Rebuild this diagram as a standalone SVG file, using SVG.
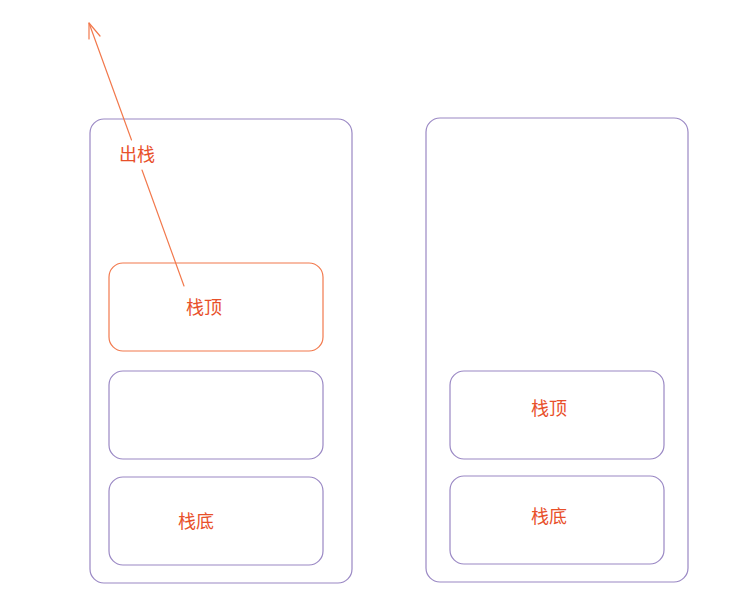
<svg xmlns="http://www.w3.org/2000/svg" width="752" height="608" viewBox="0 0 752 608">
<style>
.box{fill:none;stroke:#9a88c4;stroke-width:1.2}
.hot{fill:none;stroke:#f2794d;stroke-width:1.2}
.lbl{font-family:"Noto Sans CJK SC","Noto Sans",sans-serif;font-size:18px;fill:#e8502a;text-anchor:middle;dominant-baseline:central}
.edge{fill:none;stroke:#f2794d;stroke-width:1.2;stroke-linecap:round;stroke-linejoin:round}
</style>
<rect width="752" height="608" fill="#ffffff"/>
<g id="stack-left">
<rect class="box" x="90" y="119" width="262" height="464" rx="14"/>
</g>
<g id="left-top">
<rect class="hot" x="109" y="263" width="214" height="88" rx="14"/>
<text class="lbl" x="204" y="306">栈顶</text>
</g>
<g id="left-middle">
<rect class="box" x="109" y="371" width="214" height="88" rx="14"/>
</g>
<g id="left-bottom">
<rect class="box" x="109" y="477" width="214" height="88" rx="14"/>
<text class="lbl" x="196" y="520">栈底</text>
</g>
<g id="stack-right">
<rect class="box" x="426" y="118" width="262" height="464" rx="14"/>
</g>
<g id="right-top">
<rect class="box" x="450" y="371" width="214" height="88" rx="14"/>
<text class="lbl" x="549" y="407">栈顶</text>
</g>
<g id="right-bottom">
<rect class="box" x="450" y="476" width="214" height="88" rx="14"/>
<text class="lbl" x="549" y="515">栈底</text>
</g>
<g id="connectors">
<path class="edge" d="M184 286 L142 170 M131.5 140 L89 23"/>
<path class="edge" d="M89 39 L89 23 L100 36"/>
<text class="lbl" x="137" y="153">出栈</text>
</g>
</svg>
